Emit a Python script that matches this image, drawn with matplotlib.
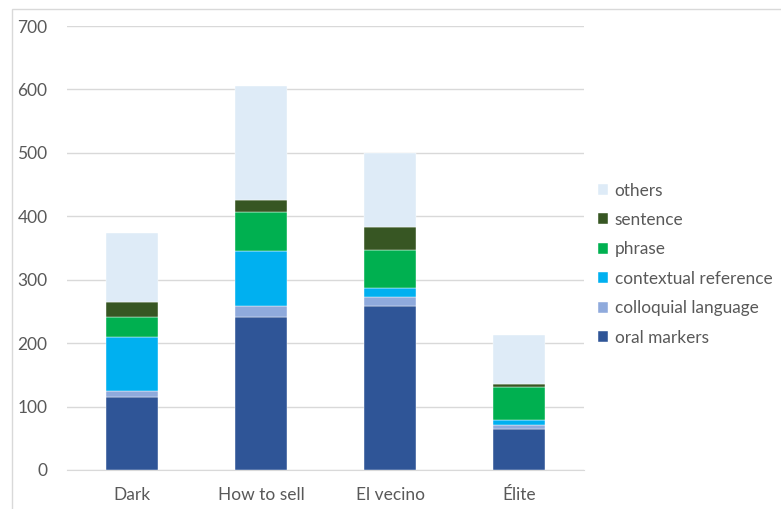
import matplotlib
matplotlib.use("Agg")
import matplotlib.pyplot as plt
from matplotlib.patches import Rectangle

plt.rcParams['font.family'] = ['Lato', 'DejaVu Sans']

shows = ["Dark", "How to sell", "El vecino", "Élite"]
oral_markers = [115, 241, 258, 65]
colloquial = [10, 17, 15, 6]
contextual = [85, 87, 14, 8]
phrase = [31, 61, 60, 52]
sentence = [24, 20, 36, 4]
others = [109, 180, 117, 78]

series = [
    ("oral markers", oral_markers, "#2F5597"),
    ("colloquial language", colloquial, "#8FAADC"),
    ("contextual reference", contextual, "#00B0F0"),
    ("phrase", phrase, "#00B050"),
    ("sentence", sentence, "#375623"),
    ("others", others, "#DEEBF7"),
]

fig = plt.figure(figsize=(7.81, 5.09), dpi=100)
ax = fig.add_axes([67/781, 1-470/509, (584-67)/781, (470-26)/509])

# chart border (cropped)
fig.patches.append(Rectangle((12/781, -0.1), 1.0, 1-9/509+0.1, transform=fig.transFigure,
                             fill=False, edgecolor="#D9D9D9", lw=1))

x = range(len(shows))
bottom = [0]*len(shows)
handles = []
for name, vals, col in series:
    b = ax.bar(x, vals, 0.404, bottom=bottom, color=col, label=name,
               edgecolor="white", linewidth=0.3, zorder=3)
    handles.append(b)
    bottom = [bb + v for bb, v in zip(bottom, vals)]

ax.set_xlim(-0.5, 3.5)
ax.set_ylim(0, 700)
ax.set_yticks(range(0, 701, 100))
ax.set_xticks(list(x))
ax.set_xticklabels(shows)
ax.grid(axis="y", color="#D9D9D9", lw=1, zorder=0)
for s in ["top", "right", "left"]:
    ax.spines[s].set_visible(False)
ax.spines["bottom"].set_color("#D9D9D9")
ax.tick_params(length=0, labelsize=12.5, colors="#595959", pad=12)
ax.tick_params(axis="y", pad=14)

leg = fig.legend(handles[::-1], [s[0] for s in series][::-1], loc="upper left",
                 bbox_to_anchor=(582/781, 1-167/509), frameon=False, fontsize=12.4,
                 handlelength=0.6, handleheight=0.6, handletextpad=0.4,
                 labelspacing=0.78, labelcolor="#595959")

fig.savefig("out.png", dpi=100)
